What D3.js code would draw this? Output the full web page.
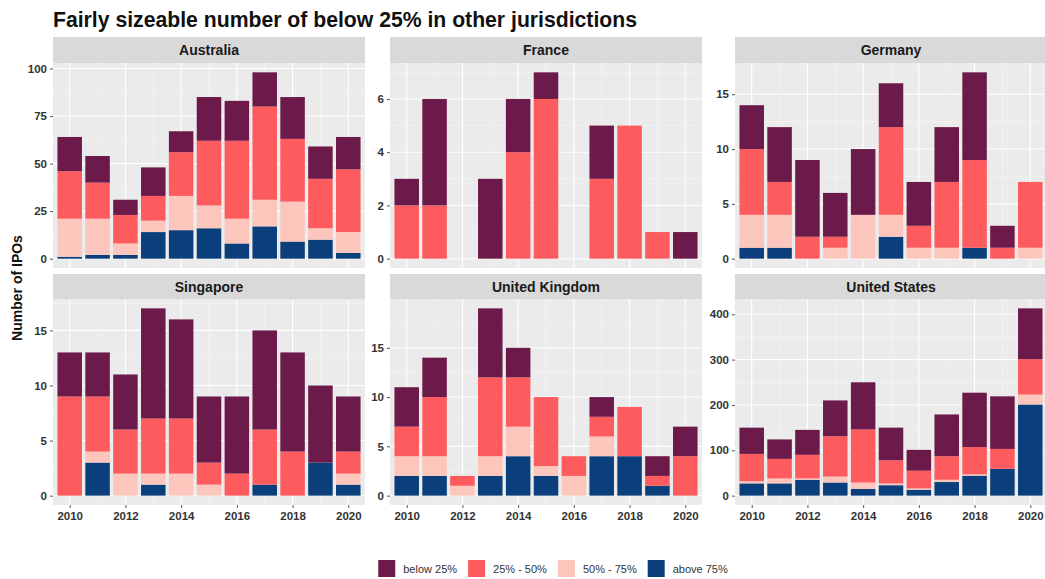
<!DOCTYPE html>
<html>
<head>
<meta charset="utf-8">
<script src="https://cdn.jsdelivr.net/npm/d3@7"></script>
<style>
  html, body { margin: 0; padding: 0; background: #ffffff; }
  svg { display: block; font-family: "Liberation Sans", Arial, Helvetica, sans-serif; }
</style>
</head>
<body>
<svg id="chart" width="1045" height="579"></svg>
<script>
// ---------------- DATA ----------------
const years = [2010, 2011, 2012, 2013, 2014, 2015, 2016, 2017, 2018, 2019, 2020];
const countries = ["Australia", "France", "Germany", "Singapore", "United Kingdom", "United States"];
// stacking order bottom -> top
const bands = ["above 75%", "50% - 75%", "25% - 50%", "below 25%"];
const legendLabels = ["below 25%", "25% - 50%", "50% - 75%", "above 75%"];
const bandColors = ["#0b3f7b", "#fdc6bc", "#fe5b5f", "#6c1a4a"];

// Australia
const ausAbove75 = [1, 2, 2, 14, 15, 16, 8, 17, 9, 10, 3];
const aus50to75  = [20, 19, 6, 6, 18, 12, 13, 14, 21, 6, 11];
const aus25to50  = [25, 19, 15, 13, 23, 34, 41, 49, 33, 26, 33];
const ausBelow25 = [18, 14, 8, 15, 11, 23, 21, 18, 22, 17, 17];
// France
const fraAbove75 = [0, 0, 0, 0, 0, 0, 0, 0, 0, 0, 0];
const fra50to75  = [0, 0, 0, 0, 0, 0, 0, 0, 0, 0, 0];
const fra25to50  = [2, 2, 0, 0, 4, 6, 0, 3, 5, 1, 0];
const fraBelow25 = [1, 4, 0, 3, 2, 1, 0, 2, 0, 0, 1];
// Germany
const deuAbove75 = [1, 1, 0, 0, 0, 2, 0, 0, 1, 0, 0];
const deu50to75  = [3, 3, 0, 1, 4, 2, 1, 1, 0, 0, 1];
const deu25to50  = [6, 3, 2, 1, 0, 8, 2, 6, 8, 1, 6];
const deuBelow25 = [4, 5, 7, 4, 6, 4, 4, 5, 8, 2, 0];
// Singapore
const sgpAbove75 = [0, 3, 0, 1, 0, 0, 0, 1, 0, 3, 1];
const sgp50to75  = [0, 1, 2, 1, 2, 1, 0, 0, 0, 0, 1];
const sgp25to50  = [9, 5, 4, 5, 5, 2, 2, 5, 4, 0, 2];
const sgpBelow25 = [4, 4, 5, 10, 9, 6, 7, 9, 9, 7, 5];
// United Kingdom
const gbrAbove75 = [2, 2, 0, 2, 4, 2, 0, 4, 4, 1, 0];
const gbr50to75  = [2, 2, 1, 2, 3, 1, 2, 2, 0, 0, 0];
const gbr25to50  = [3, 6, 1, 8, 5, 7, 2, 2, 5, 1, 4];
const gbrBelow25 = [4, 4, 0, 7, 3, 0, 0, 2, 0, 2, 3];
// United States
const usaAbove75 = [27, 27, 35, 29, 15, 23, 13, 30, 44, 59, 201];
const usa50to75  = [5, 11, 3, 13, 14, 4, 3, 5, 3, 0, 22];
const usa25to50  = [60, 43, 52, 89, 117, 51, 39, 52, 60, 44, 78];
const usaBelow25 = [58, 43, 55, 79, 104, 72, 46, 92, 120, 116, 112];

// axis ticks
const xTicks = [2010, 2012, 2014, 2016, 2018, 2020];
const yTicksAustralia = [0, 25, 50, 75, 100];
const yTicksFrance = [0, 2, 4, 6];
const yTicksGermany = [0, 5, 10, 15];
const yTicksSingapore = [0, 5, 10, 15];
const yTicksUK = [0, 5, 10, 15];
const yTicksUS = [0, 100, 200, 300, 400];

const titleText = "Fairly sizeable number of below 25% in other jurisdictions";
const yTitle = "Number of IPOs";

// --------- build tables from arrays ---------
const seriesByCountry = [
  [ausAbove75, aus50to75, aus25to50, ausBelow25],
  [fraAbove75, fra50to75, fra25to50, fraBelow25],
  [deuAbove75, deu50to75, deu25to50, deuBelow25],
  [sgpAbove75, sgp50to75, sgp25to50, sgpBelow25],
  [gbrAbove75, gbr50to75, gbr25to50, gbrBelow25],
  [usaAbove75, usa50to75, usa25to50, usaBelow25]
];
const yTicksByCountry = [yTicksAustralia, yTicksFrance, yTicksGermany, yTicksSingapore, yTicksUK, yTicksUS];

// --------- layout ---------
const svg = d3.select("#chart");
const cols = [[53, 365], [390, 702], [735, 1047]];
const rows = [
  { strip: [37, 63], plot: [63, 268] },
  { strip: [274, 299], plot: [299, 505] }
];
const textCol = "#333333";
const tickFont = 11.5;

svg.append("rect").attr("width", 1045).attr("height", 579).attr("fill", "#ffffff");

svg.append("text")
  .attr("x", 53).attr("y", 27)
  .attr("font-size", 21.2).attr("font-weight", "bold").attr("fill", "#111")
  .text(titleText);

svg.append("text")
  .attr("transform", "translate(22,288) rotate(-90)")
  .attr("text-anchor", "middle")
  .attr("font-size", 14).attr("font-weight", "bold").attr("fill", "#111")
  .text(yTitle);

const stack = d3.stack().keys(d3.range(bands.length));

countries.forEach((country, ci) => {
  const r = rows[Math.floor(ci / 3)];
  const c = cols[ci % 3];
  const series = seriesByCountry[ci];
  const table = years.map((yr, i) => {
    const row = { year: yr };
    series.forEach((s, k) => row[k] = s[i]);
    return row;
  });
  const stacked = stack(table);
  const maxTotal = d3.max(table, d => d3.sum(d3.range(bands.length), k => d[k]));

  const x = d3.scaleLinear().domain([years[0] - 0.6, years[years.length - 1] + 0.6]).range(c);
  const y = d3.scaleLinear().domain([-0.05 * maxTotal, maxTotal * 1.05]).range([r.plot[1], r.plot[0]]);
  const barW = x(years[0] + 0.44) - x(years[0] - 0.44);

  const g = svg.append("g");
  // strip
  g.append("rect").attr("x", c[0]).attr("y", r.strip[0])
    .attr("width", c[1] - c[0]).attr("height", r.strip[1] - r.strip[0]).attr("fill", "#d9d9d9");
  g.append("text").attr("x", (c[0] + c[1]) / 2).attr("y", (r.strip[0] + r.strip[1]) / 2 + 5)
    .attr("text-anchor", "middle").attr("font-size", 14).attr("font-weight", "bold").attr("fill", "#1a1a1a")
    .text(country);
  // panel
  g.append("rect").attr("x", c[0]).attr("y", r.plot[0])
    .attr("width", c[1] - c[0]).attr("height", r.plot[1] - r.plot[0]).attr("fill", "#ebebeb");

  const yt = yTicksByCountry[ci];
  const step = yt[1] - yt[0];
  // minor horizontal grid
  const minorY = [];
  for (let v = yt[0] - step / 2; v <= y.domain()[1]; v += step) {
    if (v >= y.domain()[0]) minorY.push(v);
  }
  g.selectAll(".minY").data(minorY).enter().append("line")
    .attr("x1", c[0]).attr("x2", c[1]).attr("y1", d => y(d)).attr("y2", d => y(d))
    .attr("stroke", "#f7f7f7").attr("stroke-width", 0.6);
  // minor vertical grid
  const minorX = [2011, 2013, 2015, 2017, 2019];
  g.selectAll(".minX").data(minorX).enter().append("line")
    .attr("y1", r.plot[0]).attr("y2", r.plot[1]).attr("x1", d => x(d)).attr("x2", d => x(d))
    .attr("stroke", "#f7f7f7").attr("stroke-width", 0.6);
  // major grid
  g.selectAll(".majY").data(yt).enter().append("line")
    .attr("x1", c[0]).attr("x2", c[1]).attr("y1", d => y(d)).attr("y2", d => y(d))
    .attr("stroke", "#ffffff").attr("stroke-width", 1.1);
  g.selectAll(".majX").data(xTicks).enter().append("line")
    .attr("y1", r.plot[0]).attr("y2", r.plot[1]).attr("x1", d => x(d)).attr("x2", d => x(d))
    .attr("stroke", "#ffffff").attr("stroke-width", 1.1);

  // bars
  stacked.forEach((layer, k) => {
    g.append("g").attr("fill", bandColors[k])
      .selectAll("rect").data(layer.filter(d => d[1] - d[0] > 0)).enter().append("rect")
      .attr("x", d => x(d.data.year) - barW / 2)
      .attr("width", barW)
      .attr("y", d => y(d[1]))
      .attr("height", d => y(d[0]) - y(d[1]));
  });

  // y axis
  const yAxis = d3.axisLeft(y).tickValues(yt).tickSize(3).tickPadding(3);
  const ya = g.append("g").attr("transform", `translate(${c[0]},0)`).call(yAxis);
  ya.select(".domain").remove();
  ya.selectAll(".tick line").attr("stroke", "#555");
  ya.selectAll(".tick text").attr("font-size", tickFont).attr("font-weight", "bold").attr("fill", textCol)
    .attr("font-family", "Liberation Sans, Arial, sans-serif");

  // x axis on bottom row only
  if (ci >= 3) {
    const xAxis = d3.axisBottom(x).tickValues(xTicks).tickFormat(d3.format("d")).tickSize(3).tickPadding(4);
    const xa = g.append("g").attr("transform", `translate(0,${r.plot[1]})`).call(xAxis);
    xa.select(".domain").remove();
    xa.selectAll(".tick line").attr("stroke", "#555");
    xa.selectAll(".tick text").attr("font-size", tickFont).attr("font-weight", "bold").attr("fill", textCol)
      .attr("font-family", "Liberation Sans, Arial, sans-serif");
  }
});

// --------- legend ---------
const legendColorMap = {};
bands.forEach((b, i) => legendColorMap[b] = bandColors[i]);
const lg = svg.append("g");
const keySize = 17, keyGap = 8, itemGap = 11;
const items = [];
let cx = 0;
legendLabels.forEach(lab => {
  const t = lg.append("text").attr("font-size", 11).attr("fill", textCol).text(lab);
  const w = t.node().getComputedTextLength();
  items.push({ lab, t, x: cx, w });
  cx += keySize + keyGap + w + itemGap;
});
const total = cx - itemGap;
const startX = 553 - total / 2;
items.forEach(it => {
  lg.append("rect").attr("x", startX + it.x).attr("y", 560).attr("width", keySize).attr("height", keySize)
    .attr("fill", legendColorMap[it.lab]);
  it.t.attr("x", startX + it.x + keySize + keyGap).attr("y", 572.5);
});
</script>
</body>
</html>
